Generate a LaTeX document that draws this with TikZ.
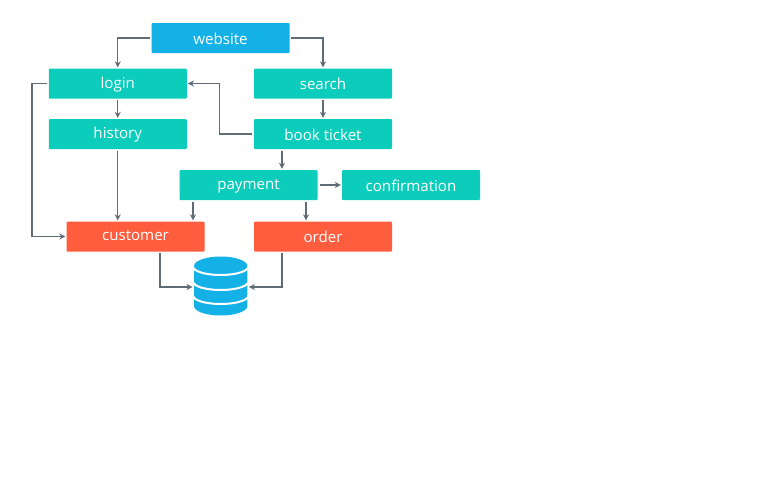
\documentclass[tikz,border=0pt]{standalone}
\usepackage{fontspec}
\setmainfont{Open Sans}
\usetikzlibrary{arrows.meta,calc}
\definecolor{teal1}{HTML}{0CCDBB}
\definecolor{blue1}{HTML}{14B1E7}
\definecolor{orange1}{HTML}{FF5D3D}
\definecolor{line1}{HTML}{5F6B75}
\tikzset{
 boxbase/.style={minimum width=138pt,minimum height=30pt,inner sep=0pt,rounded corners=1pt,text=white,font=\fontsize{15.1}{18}\selectfont,text height=11pt,text depth=3pt},
 lowa/.style={text height=13pt,text depth=3pt},
 lowb/.style={text height=15pt,text depth=3pt},
 tealbox/.style={boxbase,fill=teal1},
 bluebox/.style={boxbase,fill=blue1},
 redbox/.style={boxbase,fill=orange1},
 conn/.style={draw=line1,line width=1.3pt,-{Stealth[length=6pt,width=6pt]},shorten <=1.5pt,shorten >=1pt},
 dbgap/.style={draw=white,line width=2pt},
}
\begin{document}
\begin{tikzpicture}[x=1pt,y=-1pt]
\useasboundingbox[fill=white] (0,0) rectangle (768,480);
\node[bluebox,lowb] (website) at (220.5,38) {website};
\node[tealbox,lowa] (login) at (117.75,83.5) {login};
\node[tealbox,lowb] (search) at (323,83.5) {search};
\node[tealbox] (history) at (117.75,134) {history};
\node[tealbox,lowb] (book) at (323,134) {book ticket};
\node[tealbox] (payment) at (248.5,185) {payment};
\node[tealbox,lowb] (confirm) at (411,185) {confirmation};
\node[redbox] (customer) at (135.5,236.5) {customer};
\node[redbox,lowb] (order) at (323,236.5) {order};
% database
\node[minimum width=54pt,minimum height=60pt,inner sep=0pt] (db) at (220.7,286) {};
\fill[blue1] (194,266) arc[x radius=26.7,y radius=9.5,start angle=180,end angle=360]
  -- (247.4,306) arc[x radius=26.7,y radius=9.5,start angle=0,end angle=180] -- cycle;
\draw[dbgap] (193,266.5) arc[x radius=27.7,y radius=8.5,start angle=180,end angle=0];
\draw[dbgap] (193,281.5) arc[x radius=27.7,y radius=8.5,start angle=180,end angle=0];
\draw[dbgap] (193,295.5) arc[x radius=27.7,y radius=8.5,start angle=180,end angle=0];
% connectors
\draw[conn] (website.west) -| (login.north);
\draw[conn] (website.east) -| (search.north);
\draw[conn] (login) -- (history);
\draw[conn] (search) -- (book);
\draw[conn,shorten <=1.5pt] (book.west) -- ++(-34,0) |- (login.east);
\draw[conn,shorten <=2pt] (login.west) -- ++(-16.5,0) |- (customer.west);
\draw[conn] (history.south) -- (history.south |- customer.north);
\coordinate (bp) at ([xshift=-41pt]book.south);
\draw[conn] (bp) -- (bp |- payment.north);
\coordinate (pc) at ([xshift=-55.5pt]payment.south);
\draw[conn] (pc) -- (pc |- customer.north);
\coordinate (po) at ([xshift=57.5pt]payment.south);
\draw[conn] (po) -- (po |- order.north);
\draw[conn,shorten <=2.5pt] (payment.east) -- (confirm.west);
\coordinate (cd) at ([xshift=24.5pt]customer.south);
\draw[conn] (cd) |- ([yshift=-1pt]db.west);
\coordinate (od) at ([xshift=-41pt]order.south);
\draw[conn] (od) |- ([yshift=-1pt]db.east);
\end{tikzpicture}
\end{document}
